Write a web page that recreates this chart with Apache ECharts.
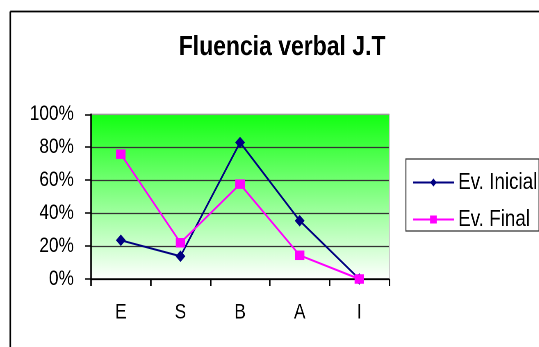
<!DOCTYPE html>
<html>
<head>
<meta charset="utf-8">
<script src="https://cdn.jsdelivr.net/npm/echarts@6/dist/echarts.min.js"></script>
<style>
html,body{margin:0;padding:0;background:#fff;overflow:hidden}
#wrap{width:539px;height:347px;overflow:hidden}
#c{width:657.3px;height:347px;transform:scale(0.82,1);transform-origin:0 0}
</style>
</head>
<body>
<div id="wrap"><div id="c"></div></div>
<script>
const title = 'Fluencia verbal J.T';
const categories = ['E', 'S', 'B', 'A', 'I'];
const yTicks = [0, 0.2, 0.4, 0.6, 0.8, 1.0];
const seriesNames = ['Ev. Inicial', 'Ev. Final'];
const evInicial = [0.235, 0.138, 0.829, 0.354, 0.0];
const evFinal = [0.758, 0.220, 0.576, 0.144, 0.0];

const FONT = "'Liberation Sans', Arial, sans-serif";
const chart = echarts.init(document.getElementById('c'), null, {renderer: 'canvas', devicePixelRatio: 2});
chart.setOption({
  animation: false,
  backgroundColor: '#fff',
  title: {
    text: title, left: 339, top: 28.5, textAlign: 'center',
    textStyle: {fontFamily: FONT, fontSize: 28, fontWeight: 'bold', color: '#000'}
  },
  graphic: [
    {type: 'line', z: -10, silent: true, shape: {x1: 12.6, y1: 11.5, x2: 700, y2: 11.5},
     style: {stroke: '#000', lineWidth: 1.7}},
    {type: 'line', z: -10, silent: true, shape: {x1: 12.6, y1: 11.5, x2: 12.6, y2: 400},
     style: {stroke: '#000', lineWidth: 2}}
  ],
  legend: {
    orient: 'vertical', left: 495, top: 159,
    padding: [12, 2, 0, 7.6], itemGap: 14,
    itemWidth: 50, itemHeight: 10,
    borderColor: '#333', borderWidth: 1.2,
    textStyle: {fontFamily: FONT, fontSize: 23, color: '#000', lineHeight: 22},
    data: seriesNames
  },
  grid: {
    left: 111, right: 182.5, top: 114.3, bottom: 68,
    show: true, borderColor: '#999', borderWidth: 1,
    backgroundColor: new echarts.graphic.LinearGradient(0, 0, 0, 1, [
      {offset: 0, color: '#11ff11'},
      {offset: 1, color: '#ffffff'}
    ])
  },
  xAxis: {
    type: 'category', data: categories, boundaryGap: true,
    axisLine: {lineStyle: {color: '#000', width: 1.5}},
    axisTick: {show: true, length: 7, inside: false, lineStyle: {color: '#000', width: 1.8}},
    axisLabel: {fontFamily: FONT, fontSize: 21, color: '#000', margin: 23}
  },
  yAxis: {
    type: 'value', min: 0, max: 1, interval: 0.2,
    axisLine: {show: true, lineStyle: {color: '#000', width: 1.8}},
    axisTick: {show: true, length: 7.3, lineStyle: {color: '#000', width: 1.5}},
    axisLabel: {fontFamily: FONT, fontSize: 21, color: '#000', margin: 21,
      formatter: v => Math.round(v * 100) + '%'},
    splitLine: {show: true, lineStyle: {color: ['#000', '#333', '#333', '#333', '#333', '#999'], width: 1.2}}
  },
  series: [
    {
      name: seriesNames[0], type: 'line', data: evInicial,
      symbol: 'diamond', symbolSize: [12, 11.5],
      lineStyle: {color: '#000080', width: 2},
      itemStyle: {color: '#000080'}
    },
    {
      name: seriesNames[1], type: 'line', data: evFinal,
      symbol: 'rect', symbolSize: [11.5, 9.5],
      lineStyle: {color: '#ff00ff', width: 2},
      itemStyle: {color: '#ff00ff'}
    }
  ]
});
</script>
</body>
</html>
